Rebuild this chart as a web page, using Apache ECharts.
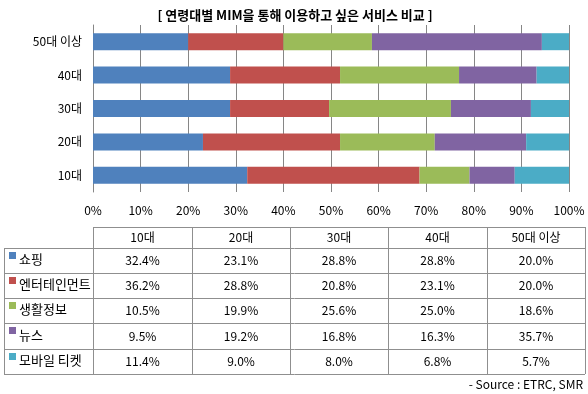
<!DOCTYPE html>
<html><head><meta charset="utf-8">
<script src="https://cdn.jsdelivr.net/npm/echarts@6/dist/echarts.min.js"></script>
<style>html,body{margin:0;padding:0;background:#fff}#c{width:588px;height:394px}</style>
</head><body><div id="c"></div>
<script>
const title = '[ 연령대별 MIM을 통해 이용하고 싶은 서비스 비교 ]';
const categories = ['10대', '20대', '30대', '40대', '50대 이상'];
const seriesNames = ['쇼핑', '엔터테인먼트', '생활정보', '뉴스', '모바일 티켓'];
const shopping = [32.4, 23.1, 28.8, 28.8, 20.0];
const entertainment = [36.2, 28.8, 20.8, 23.1, 20.0];
const lifeInfo = [10.5, 19.9, 25.6, 25.0, 18.6];
const news = [9.5, 19.2, 16.8, 16.3, 35.7];
const mobileTicket = [11.4, 9.0, 8.0, 6.8, 5.7];
const source = '- Source : ETRC, SMR';

const seriesData = [shopping, entertainment, lifeInfo, news, mobileTicket];
const colors = ['#4F81BD', '#C0504D', '#9BBB59', '#8064A2', '#4BACC6'];
const FONT = '"Noto Sans CJK KR", "Noto Sans", sans-serif';

const chart = echarts.init(document.getElementById('c'));

// table geometry
const colX = [4, 93, 192, 290, 388, 487, 585];
const rowY = [227, 248, 273, 298, 323, 349, 374];
const lineColor = '#8f8f8f';
const graphics = [];
function line(x1, y1, x2, y2) {
  graphics.push({type: 'line', shape: {x1, y1, x2, y2}, style: {stroke: lineColor, lineWidth: 1}, silent: true});
}
// horizontal lines
line(colX[1], rowY[0] + 0.5, colX[6], rowY[0] + 0.5);
for (let r = 1; r < rowY.length; r++) line(colX[0], rowY[r] + 0.5, colX[6], rowY[r] + 0.5);
// vertical lines
line(colX[0] + 0.5, rowY[1], colX[0] + 0.5, rowY[6]);
for (let c = 1; c < colX.length; c++) line(colX[c] + 0.5, rowY[0], colX[c] + 0.5, rowY[6]);
// header texts
categories.forEach((cat, i) => {
  graphics.push({type: 'text', x: (colX[i + 1] + colX[i + 2]) / 2, y: (rowY[0] + rowY[1]) / 2,
    style: {text: cat, font: '12px ' + FONT, fill: '#000', align: 'center', verticalAlign: 'middle'}, silent: true});
});
// rows
seriesNames.forEach((name, s) => {
  const yTop = rowY[s + 1], yMid = (rowY[s + 1] + rowY[s + 2]) / 2;
  graphics.push({type: 'rect', shape: {x: 9, y: yTop + 4, width: 7, height: 7}, style: {fill: colors[s]}, silent: true});
  graphics.push({type: 'text', x: 19, y: yMid - 1,
    style: {text: name, font: '13px ' + FONT, fill: '#000', align: 'left', verticalAlign: 'middle'}, silent: true});
  seriesData[s].forEach((v, i) => {
    graphics.push({type: 'text', x: (colX[i + 1] + colX[i + 2]) / 2, y: yMid,
      style: {text: v.toFixed(1) + '%', font: '12px ' + FONT, fill: '#000', align: 'center', verticalAlign: 'middle'}, silent: true});
  });
});
graphics.push({type: 'text', x: 583, y: 384,
  style: {text: source, font: '12px ' + FONT, fill: '#000', align: 'right', verticalAlign: 'middle'}, silent: true});

chart.setOption({
  animation: false,
  title: {text: title, left: 290, top: 4, textAlign: 'center',
    textStyle: {fontFamily: FONT, fontSize: 13, fontWeight: 'bold', color: '#000'}},
  grid: {left: 93, right: 19, top: 25, bottom: 202, containLabel: false},
  xAxis: {type: 'value', min: 0, max: 100, interval: 10,
    axisLine: {show: false}, axisTick: {show: false},
    splitLine: {show: true, lineStyle: {color: '#868686', width: 1}},
    axisLabel: {formatter: '{value}%', margin: 12, fontFamily: FONT, fontSize: 12, color: '#000'}},
  yAxis: {type: 'category', data: categories,
    axisLine: {show: true, lineStyle: {color: '#868686'}}, axisTick: {show: false},
    axisLabel: {margin: 11, fontFamily: FONT, fontSize: 12, color: '#000'}},
  series: seriesNames.map((n, s) => ({
    name: n, type: 'bar', stack: 'total', data: seriesData[s], barWidth: 17,
    itemStyle: {color: colors[s]}
  })),
  graphic: graphics
});
</script></body></html>
